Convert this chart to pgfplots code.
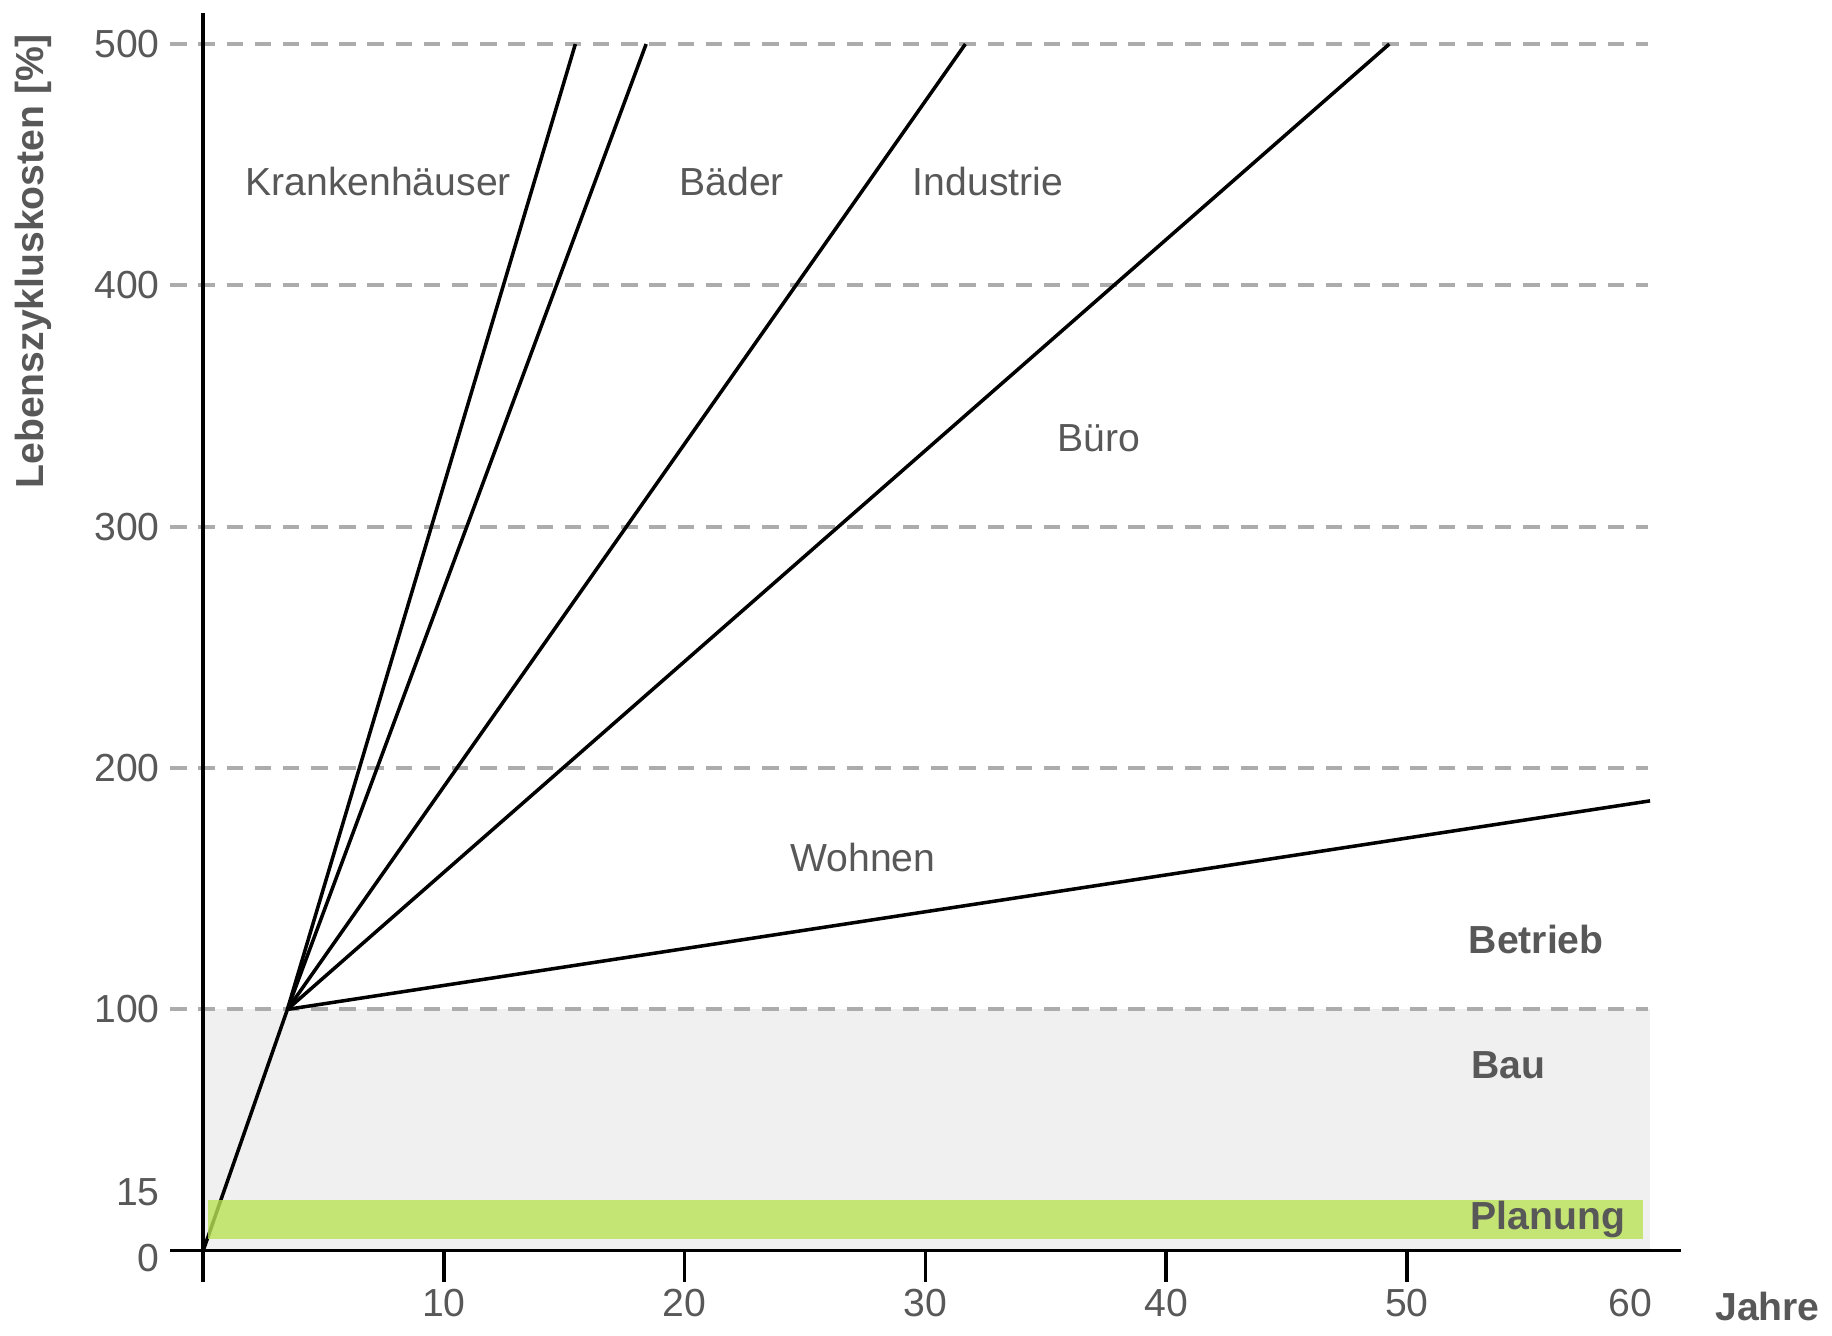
\documentclass[border=0pt]{standalone}
\usepackage{fontspec}
\setmainfont{Liberation Sans}
\usepackage{pgfplots}
\pgfplotsset{compat=1.18}
\definecolor{txt}{RGB}{88,88,88}
\definecolor{gridc}{RGB}{172,172,172}
\definecolor{baufill}{RGB}{240,240,240}
\definecolor{plangreen}{RGB}{186,226,86}

\begin{document}
\begin{tikzpicture}
\path[use as bounding box] (-51.9pt,-21.6pt) rectangle (416.1pt,319.5pt);
\begin{axis}[
    anchor=origin, at={(0pt,0pt)},
    x=6.15pt, y=0.6165pt,
    xmin=-1.37, xmax=61.4,
    ymin=0, ymax=513,
    axis lines=middle,
    axis line style={line width=0.9pt,-},
    axis on top=true,
    hide obscured x ticks=false,
    hide obscured y ticks=false,
    clip=false,
    font=\fontsize{10}{12}\selectfont,
    /pgf/number format/assume math mode=true,
    xtick={0,10,...,50},
    xticklabels={,10,20,30,40,50},
    extra x ticks={60},
    extra x tick labels={60},
    extra x tick style={major tick style={draw=none}, xticklabel style={xshift=-4.5pt}},
    tick align=outside,
    major tick length=8pt,
    major tick style={line width=0.9pt, black},
    xticklabel style={anchor=center, yshift=-5.3pt, text=txt},
    ytick={100,200,...,500},
    extra y ticks={0,15},
    extra y tick labels={\smash{\raisebox{-5.4pt}{0}},\smash{\raisebox{2.2pt}{15}}},
    extra y tick style={major tick style={draw=none}},
    ytick style={draw=none},
    yticklabel style={anchor=east, xshift=0.4pt, text=txt},
    ]
    % Bau (grey block)
    \addplot [draw=none, fill=baufill, forget plot] coordinates {(0,0) (0,100) (60.1,100) (60.1,0)} -- cycle;
    % dashed reference lines
    \addplot [gridc, line width=1pt, dash pattern=on 4.2pt off 3pt] coordinates {(-1.37,100) (60,100)};
    \addplot [gridc, line width=1pt, dash pattern=on 4.2pt off 3pt] coordinates {(-1.37,200) (60,200)};
    \addplot [gridc, line width=1pt, dash pattern=on 4.2pt off 3pt] coordinates {(-1.37,300) (60,300)};
    \addplot [gridc, line width=1pt, dash pattern=on 4.2pt off 3pt] coordinates {(-1.37,400) (60,400)};
    \addplot [gridc, line width=1pt, dash pattern=on 4.2pt off 3pt] coordinates {(-1.37,500) (60,500)};
    % cost lines
    \addplot [black, line width=0.9pt] coordinates {(0,0) (3.5,100) (15.46,500)};
    \addplot [black, line width=0.9pt] coordinates {(3.5,100) (18.4,500)};
    \addplot [black, line width=0.9pt] coordinates {(3.5,100) (31.66,500)};
    \addplot [black, line width=0.9pt] coordinates {(3.5,100) (49.27,500)};
    \addplot [black, line width=0.9pt] coordinates {(3.5,100) (60.1,186.4)};
    % Planung (green band)
    \addplot [draw=none, fill=plangreen, fill opacity=0.8] coordinates {(0.2,4.9) (0.2,21) (59.8,21) (59.8,4.9)} -- cycle;

    \node [text=txt] at (axis cs:7.27,443) {Krankenhäuser};
    \node [text=txt] at (axis cs:21.95,443) {Bäder};
    \node [text=txt] at (axis cs:32.6,443) {Industrie};
    \node [text=txt] at (axis cs:37.2,336.7) {Büro};
    \node [text=txt] at (axis cs:27.4,163) {Wohnen};
    \node [text=txt, font=\bfseries] at (axis cs:55.37,129) {Betrieb};
    \node [text=txt, font=\bfseries] at (axis cs:54.2,76.9) {Bau};
    \node [text=txt, font=\bfseries] at (axis cs:55.85,13.1) {Planung};
    \node [text=txt, font=\bfseries] at (axis cs:64.98,-23) {Jahre};
    \node [text=txt, font=\bfseries, rotate=90] at (axis cs:-7.07,410) {Lebenszykluskosten [\%]};
\end{axis}
\end{tikzpicture}
\end{document}
